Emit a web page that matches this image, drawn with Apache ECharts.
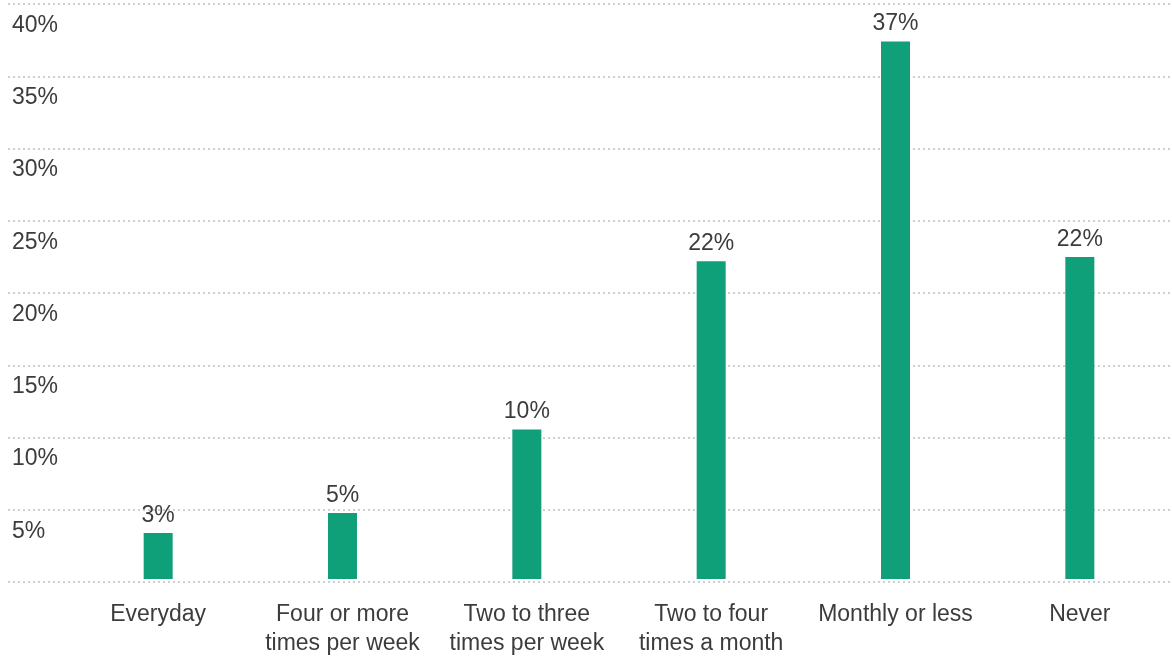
<!DOCTYPE html>
<html>
<head>
<meta charset="utf-8">
<script src="https://cdn.jsdelivr.net/npm/echarts@6/dist/echarts.min.js"></script>
<style>
html,body{margin:0;padding:0;background:#fff;}
#c{width:1172px;height:658px;}
</style>
</head>
<body>
<div id="c"></div>
<script>
const categories = ['Everyday', 'Four or more\ntimes per week', 'Two to three\ntimes per week', 'Two to four\ntimes a month', 'Monthly or less', 'Never'];
const values = [3.2, 4.6, 10.4, 22.1, 37.4, 22.4];
const valueLabels = ['3%', '5%', '10%', '22%', '37%', '22%'];
const yMin = 0, yMax = 40, yInterval = 5;

const textColor = '#3c3c3c';
const font = 'Liberation Sans, Arial, sans-serif';

const chart = echarts.init(document.getElementById('c'), null, {renderer: 'canvas'});
chart.setOption({
  animation: false,
  backgroundColor: '#ffffff',
  grid: [
    {left: 8, right: 0, top: 4, bottom: 76},
    {left: 66, right: -6, top: 4, bottom: 76}
  ],
  xAxis: [
    {gridIndex: 0, type: 'value', show: false, min: 0, max: 1},
    {
      gridIndex: 1, type: 'category', data: categories,
      axisLine: {show: false}, axisTick: {show: false},
      axisLabel: {color: textColor, fontSize: 23, fontFamily: font, lineHeight: 29, margin: 21, interval: 0}
    }
  ],
  yAxis: [
    {
      gridIndex: 0, type: 'value', min: yMin, max: yMax, interval: yInterval,
      axisLine: {show: false}, axisTick: {show: false},
      splitLine: {show: true, lineStyle: {color: '#bfbfbf', width: 1.5, type: [2, 3]}},
      axisLabel: {
        inside: true, margin: 4, align: 'left', verticalAlign: 'top',
        padding: [10, 0, 0, 0], lineHeight: 23,
        color: textColor, fontSize: 23, fontFamily: font,
        formatter: v => v === 0 ? '' : v + '%'
      }
    },
    {gridIndex: 1, type: 'value', min: yMin, max: yMax, interval: yInterval, show: false, splitLine: {show: false}}
  ],
  series: [{
    type: 'bar',
    xAxisIndex: 1, yAxisIndex: 1,
    data: values,
    barWidth: 29,
    itemStyle: {color: '#0fa07a'},
    label: {
      show: true, position: 'top', distance: 6,
      color: textColor, fontSize: 23, fontFamily: font,
      formatter: p => valueLabels[p.dataIndex]
    }
  }]
});
</script>
</body>
</html>
